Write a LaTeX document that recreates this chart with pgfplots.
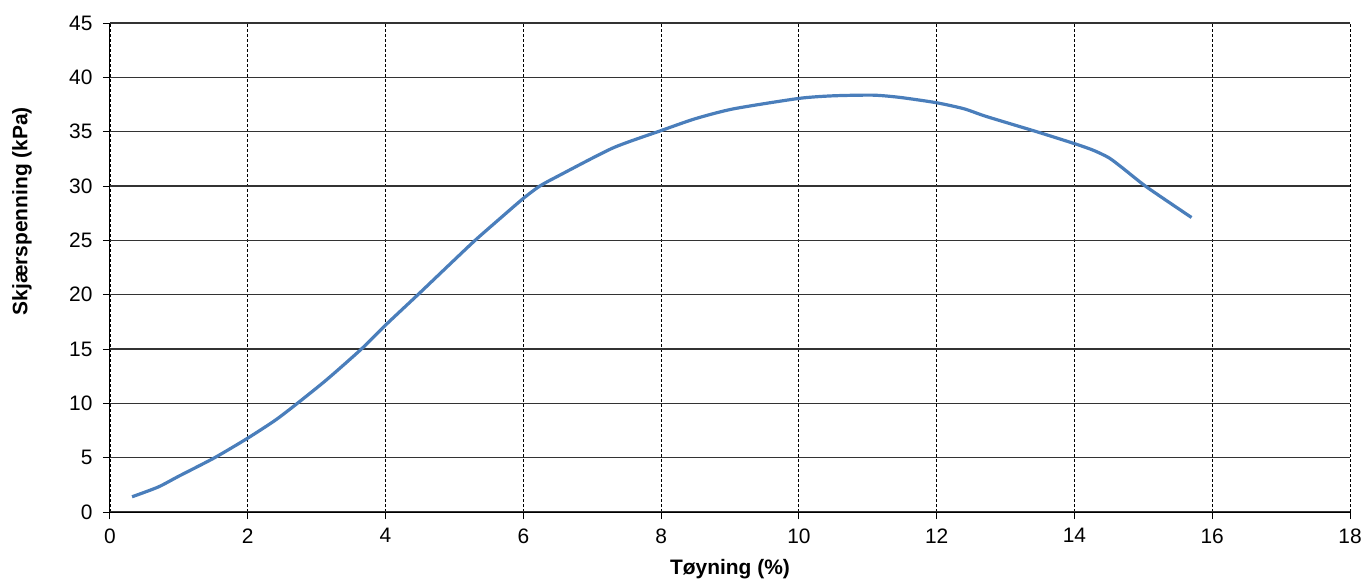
\documentclass[border=0pt]{standalone}
\usepackage{fontspec}
\setmainfont{Liberation Sans}
\usepackage{pgfplots}
\pgfplotsset{compat=1.18}
\definecolor{exblue}{RGB}{74,126,187}
\begin{document}
\begin{tikzpicture}[x=1bp,y=1bp]
\begin{axis}[
  at={(0,0)}, anchor=south west,
  scale only axis, width=1240bp, height=489bp,
  xmin=0, xmax=18, ymin=0, ymax=45,
  xtick={0,2,...,18}, ytick={0,5,...,45},
  axis x line=bottom, axis y line=left,
  axis line style={-, black, line width=1bp},
  tick align=outside, major tick length=7bp,
  tick style={black, line width=1bp},
  xmajorgrids, ymajorgrids,
  x grid style={black, line width=0.9bp, dash pattern=on 3bp off 2bp},
  y grid style={black!80, line width=1.2bp},
  /pgf/number format/assume math mode=true,
  tick label style={font=\fontsize{21}{25}\selectfont},
  xticklabel style={yshift=-6bp},
  yticklabel style={xshift=-7bp},
  every axis x label/.style={at={(axis description cs:0.5,-0.1166)}, anchor=center, font=\fontsize{21}{25}\selectfont\bfseries},
  every axis y label/.style={at={(axis description cs:-0.071,0.615)}, rotate=90, anchor=center, font=\fontsize{21}{25}\selectfont\bfseries},
  xlabel={Tøyning (\%)},
  ylabel={Skjærspenning (kPa)},
  clip=false,
]
\addplot[exblue, line width=3.2bp, smooth, tension=0.4] coordinates {
(0.32,1.4)
(0.7,2.3)
(1.0,3.3)
(1.52,5.0)
(2.0,6.8)
(2.4,8.45)
(2.72,10.0)
(3.15,12.2)
(3.65,15.0)
(4.0,17.2)
(4.47,20.0)
(4.9,22.6)
(5.3,25.0)
(5.66,27.0)
(6.0,28.86)
(6.24,30.0)
(6.5,30.9)
(7.3,33.5)
(8.0,35.1)
(8.5,36.2)
(9.05,37.1)
(10.0,38.06)
(10.5,38.3)
(11.08,38.36)
(11.47,38.15)
(12.0,37.66)
(12.4,37.1)
(12.72,36.4)
(13.45,35.0)
(14.0,33.9)
(14.27,33.3)
(14.5,32.6)
(14.71,31.6)
(15.05,29.9)
(15.7,27.1)
};
\end{axis}
\path (-110bp,-70bp) rectangle (1259bp,512bp);
\end{tikzpicture}
\end{document}
